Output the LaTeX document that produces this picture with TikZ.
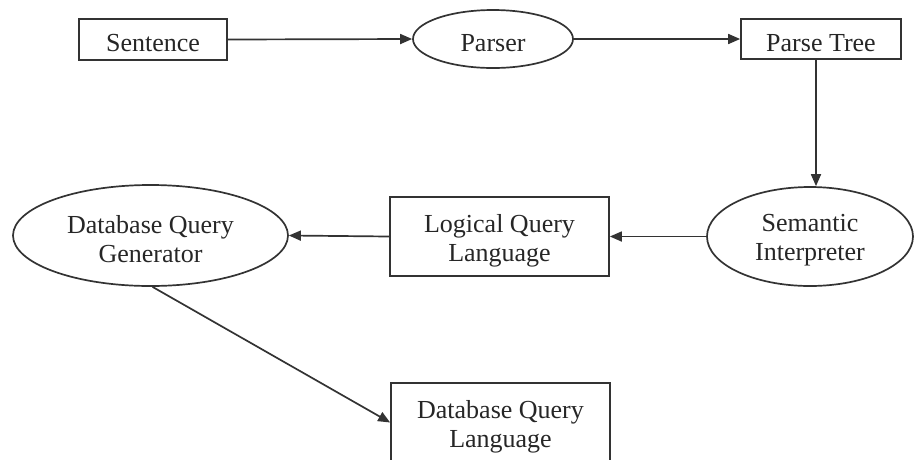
\documentclass[tikz,border=0pt]{standalone}
\usepackage{fontspec}
\setmainfont{Liberation Serif}
\usetikzlibrary{shapes.geometric,arrows.meta}
\begin{document}
\begin{tikzpicture}[x=1pt,y=-1pt,
  txt/.style={font=\fontsize{26}{29}\selectfont, text=black!85, align=center, inner sep=0pt, draw=none, yshift=-4pt},
  shp/.style={inner sep=0pt, line width=1.7pt, draw=black!80, label={[txt]center:#1}},
  boxnode/.style={shp=#1, rectangle},
  ellnode/.style={shp=#1, ellipse},
  arr/.style={line width=1.7pt, draw=black!80, -{Triangle[length=12pt,width=10pt]}}]
\useasboundingbox (0,0) rectangle (916,459);
\node[boxnode={Sentence}, minimum width=148pt, minimum height=41pt] (sent) at (153,39.5) {};
\node[ellnode={Parser}, minimum width=160pt, minimum height=58pt] (pars) at (493,39) {};
\node[boxnode={Parse Tree}, minimum width=160pt, minimum height=40pt] (pt) at (821,39) {};
\node[ellnode={Semantic\\Interpreter}, minimum width=206pt, minimum height=99pt] (sem) at (810,236.5) {};
\node[boxnode={Logical Query\\Language}, minimum width=219pt, minimum height=79pt] (lql) at (499.5,236.5) {};
\node[ellnode={Database Query\\Generator}, minimum width=275pt, minimum height=101pt] (dqg) at (150.5,235.5) {};
\node[boxnode={Database Query\\Language}, minimum width=219pt, minimum height=79pt] (dql) at (500.5,422.5) {};
\draw[arr] (sent.east) -- (pars.west);
\draw[arr] (pars.east) -- (pt.west);
\draw[arr] ([xshift=-5pt]pt.south) -- ([xshift=-5pt]pt.south |- sem.north);
\draw[arr] (sem.west) -- (lql.east);
\draw[arr] (lql.west) -- (dqg.east);
\draw[arr] ([xshift=2pt]dqg.south) -- (dql.west);
\end{tikzpicture}
\end{document}
